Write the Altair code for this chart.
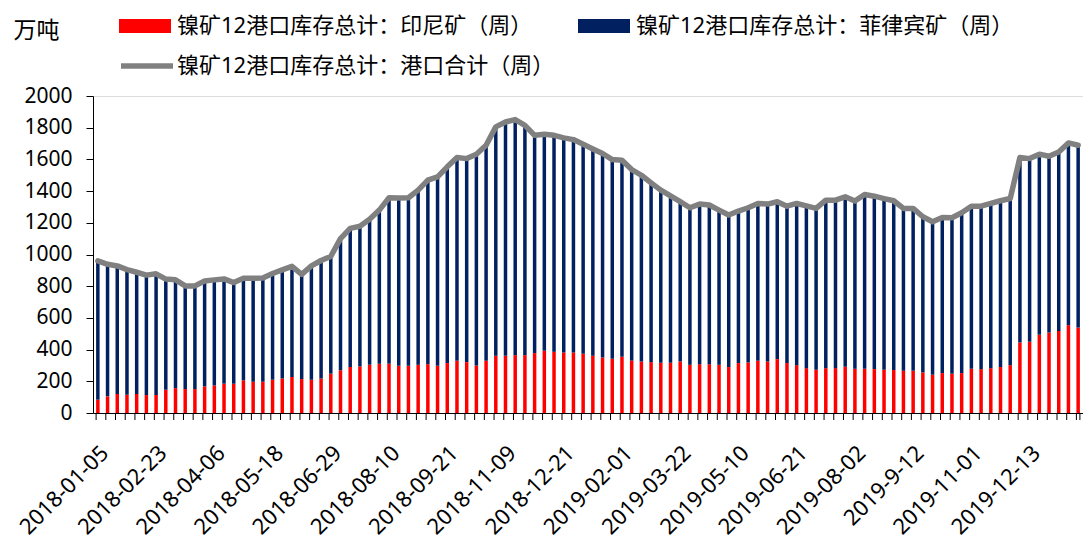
import altair as alt
import pandas as pd

dates = [
    "2018-01-05", "2018-01-12", "2018-01-19", "2018-01-26", "2018-02-02", "2018-02-09",
    "2018-02-23", "2018-03-02", "2018-03-09", "2018-03-16", "2018-03-23", "2018-03-30",
    "2018-04-06", "2018-04-13", "2018-04-20", "2018-04-27", "2018-05-04", "2018-05-11",
    "2018-05-18", "2018-05-25", "2018-06-01", "2018-06-08", "2018-06-15", "2018-06-22",
    "2018-06-29", "2018-07-06", "2018-07-13", "2018-07-20", "2018-07-27", "2018-08-03",
    "2018-08-10", "2018-08-17", "2018-08-24", "2018-08-31", "2018-09-07", "2018-09-14",
    "2018-09-21", "2018-09-28", "2018-10-12", "2018-10-19", "2018-10-26", "2018-11-02",
    "2018-11-09", "2018-11-16", "2018-11-23", "2018-11-30", "2018-12-07", "2018-12-14",
    "2018-12-21", "2018-12-28", "2019-01-04", "2019-01-11", "2019-01-18", "2019-01-25",
    "2019-02-01", "2019-02-15", "2019-02-22", "2019-03-01", "2019-03-08", "2019-03-15",
    "2019-03-22", "2019-03-29", "2019-04-04", "2019-04-12", "2019-04-19", "2019-04-26",
    "2019-05-10", "2019-05-17", "2019-05-24", "2019-05-31", "2019-06-06", "2019-06-14",
    "2019-06-21", "2019-06-28", "2019-07-05", "2019-07-12", "2019-07-19", "2019-07-26",
    "2019-08-02", "2019-08-09", "2019-08-16", "2019-08-23", "2019-08-30", "2019-09-06",
    "2019-9-12", "2019-09-20", "2019-09-27", "2019-10-11", "2019-10-18", "2019-10-25",
    "2019-11-01", "2019-11-08", "2019-11-15", "2019-11-22", "2019-11-29", "2019-12-06",
    "2019-12-13", "2019-12-20", "2019-12-27", "2020-01-03", "2020-01-10", "2020-01-17",
]

label_dates = [
    "2018-01-05", "2018-02-23", "2018-04-06", "2018-05-18", "2018-06-29", "2018-08-10",
    "2018-09-21", "2018-11-09", "2018-12-21", "2019-02-01", "2019-03-22", "2019-05-10",
    "2019-06-21", "2019-08-02", "2019-9-12", "2019-11-01", "2019-12-13",
]

indonesia = [
    84, 105, 120, 115, 120, 113, 113, 147, 157, 151, 151, 168, 174, 185, 185, 206, 197, 197,
    210, 218, 227, 214, 210, 218, 248, 269, 290, 294, 304, 311, 311, 298, 298, 304, 308, 298,
    315, 330, 321, 300, 330, 361, 361, 365, 365, 378, 392, 386, 382, 382, 374, 361, 350, 342,
    355, 332, 325, 321, 317, 317, 325, 304, 308, 308, 304, 290, 315, 319, 330, 325, 340, 315,
    302, 283, 273, 283, 283, 292, 279, 279, 277, 273, 271, 267, 267, 256, 241, 252, 248, 252,
    279, 277, 283, 290, 302, 445, 449, 493, 508, 518, 554, 539,
]

philippines = [
    876, 833, 808, 790, 768, 757, 765, 698, 683, 651, 651, 665, 666, 661, 638, 644, 653, 655,
    670, 685, 698, 661, 718, 744, 740, 831, 875, 884, 918, 969, 1047, 1058, 1060, 1102, 1161, 1192,
    1238, 1282, 1284, 1333, 1359, 1444, 1475, 1486, 1450, 1374, 1366, 1366, 1354, 1343, 1322, 1305, 1287, 1257,
    1240, 1204, 1175, 1131, 1089, 1053, 1008, 991, 1010, 1004, 976, 959, 959, 976, 992, 993, 993, 990,
    1020, 1024, 1018, 1060, 1060, 1072, 1058, 1100, 1091, 1080, 1068, 1024, 1024, 982, 966, 982, 984, 1011,
    1026, 1028, 1039, 1049, 1051, 1167, 1156, 1140, 1112, 1129, 1150, 1150,
]

total = [
    960, 938, 928, 905, 888, 870, 878, 845, 840, 802, 802, 833, 840, 846, 823, 850, 850, 852,
    880, 903, 925, 875, 928, 962, 988, 1100, 1165, 1178, 1222, 1280, 1358, 1356, 1358, 1406, 1469, 1490,
    1553, 1612, 1605, 1633, 1689, 1805, 1836, 1851, 1815, 1752, 1758, 1752, 1736, 1725, 1696, 1666, 1637, 1599,
    1595, 1536, 1500, 1452, 1406, 1370, 1333, 1295, 1318, 1312, 1280, 1249, 1274, 1295, 1322, 1318, 1333, 1305,
    1322, 1307, 1291, 1343, 1343, 1364, 1337, 1379, 1368, 1353, 1339, 1291, 1291, 1238, 1207, 1234, 1232, 1263,
    1305, 1305, 1322, 1339, 1353, 1612, 1605, 1633, 1620, 1647, 1704, 1689,
]

S_IDN = "镍矿12港口库存总计：印尼矿（周）"
S_PHL = "镍矿12港口库存总计：菲律宾矿（周）"
S_TOT = "镍矿12港口库存总计：港口合计（周）"
series_names = [S_IDN, S_PHL]
series_colors = ["#FF0000", "#002060"]

rows = []
for i, d in enumerate(dates):
    rows.append({"date": d, "series": S_IDN, "value": indonesia[i], "ord": 0})
    rows.append({"date": d, "series": S_PHL, "value": philippines[i], "ord": 1})
bars_df = pd.DataFrame(rows)
line_df = pd.DataFrame({"date": dates, "total": total, "name": S_TOT})
last_df = pd.DataFrame({"date": [dates[-1]]})

NUM_FONT = "Noto Sans, DejaVu Sans, sans-serif"
CJK_FONT = "Noto Sans, Noto Sans CJK SC, sans-serif"
W, H = 990, 317

x_axis = alt.Axis(
    values=label_dates, labelAngle=-45, labelAlign="right", labelBaseline="top",
    labelPadding=29, labelFontSize=22, labelFont=NUM_FONT, labelColor="#000000",
    ticks=False, tickSize=0, domain=True, domainColor="#000000", domainWidth=1,
    grid=False, title=None, labelOverlap=False,
)
x_scale = alt.Scale(paddingInner=0.64, paddingOuter=0.32)
y_scale = alt.Scale(domain=[0, 2000], nice=False)
y_axis = alt.Axis(
    values=list(range(0, 2001, 200)), format="d", grid=False, tickSize=7, tickColor="#000000",
    domainColor="#000000", labelFontSize=21, labelFont=NUM_FONT, labelColor="#000000",
    labelPadding=14, title="万吨", titleAngle=0, titleAlign="left", titleBaseline="middle",
    titleX=-80, titleY=-66, titleFontSize=23, titleFont=CJK_FONT, titleFontWeight="normal",
    titleColor="#000000",
)

bars = alt.Chart(bars_df).mark_bar().encode(
    x=alt.X("date:N", sort=dates, scale=x_scale, axis=x_axis),
    y=alt.Y("value:Q", stack="zero", scale=y_scale, axis=y_axis),
    color=alt.Color(
        "series:N",
        scale=alt.Scale(domain=series_names, range=series_colors),
        legend=alt.Legend(
            title=None, orient="none", legendX=26, legendY=-96, direction="horizontal",
            columns=2, symbolType="M-1,-0.27L1,-0.27L1,0.27L-1,0.27Z", symbolSize=2704,
            symbolStrokeWidth=0, symbolOpacity=1, labelFontSize=22, labelFont=CJK_FONT,
            labelColor="#000000", labelLimit=800, columnPadding=45, labelOffset=6, padding=0,
        ),
    ),
    order=alt.Order("ord:Q"),
)

line = alt.Chart(line_df).mark_line(strokeWidth=5.5, strokeJoin="round", strokeCap="round").encode(
    x=alt.X("date:N", sort=dates, scale=x_scale, axis=x_axis),
    y=alt.Y("total:Q", scale=y_scale, axis=y_axis),
    stroke=alt.Stroke(
        "name:N",
        scale=alt.Scale(domain=[S_TOT], range=["#808080"]),
        legend=alt.Legend(
            title=None, orient="none", legendX=25, legendY=-59, symbolType="stroke",
            symbolSize=2704, symbolStrokeWidth=5.5, labelFontSize=22, labelFont=CJK_FONT,
            labelColor="#000000", labelLimit=800, labelOffset=1, padding=0,
        ),
    ),
)

ticks = alt.Chart(bars_df[bars_df["ord"] == 0]).mark_rule(color="#000000", strokeWidth=1).encode(
    x=alt.X("date:N", sort=dates, bandPosition=0, scale=x_scale, axis=x_axis),
    y=alt.value(H),
    y2=alt.value(H + 7),
)
end_tick = alt.Chart(last_df).mark_rule(color="#000000", strokeWidth=1).encode(
    x=alt.X("date:N", sort=dates, bandPosition=1, scale=x_scale, axis=x_axis),
    y=alt.value(H),
    y2=alt.value(H + 7),
)

chart = alt.layer(bars, line, ticks, end_tick).properties(
    width=W, height=H,
    autosize=alt.AutoSizeParams(type="none"),
    padding={"left": 85, "top": 88, "right": 0, "bottom": 131},
).configure_view(stroke=None).configure(background="white")

chart.save("out.html", embed_options={"renderer": "svg", "actions": False})
